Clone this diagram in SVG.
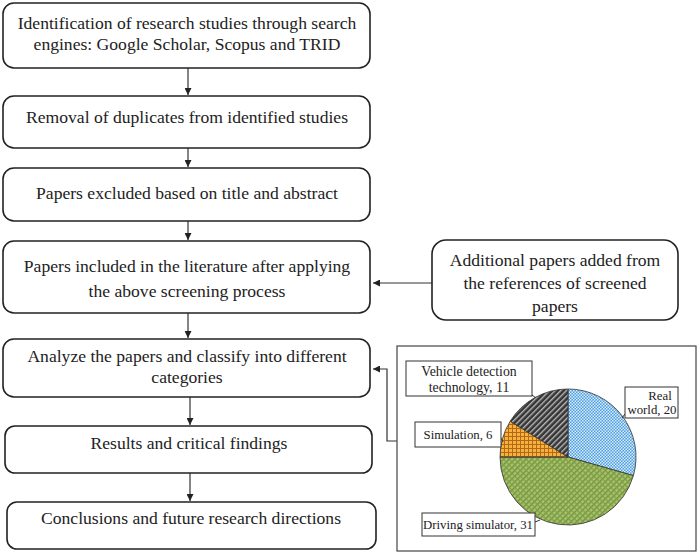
<svg xmlns="http://www.w3.org/2000/svg" width="700" height="556" viewBox="0 0 700 556">
<style>
.box{fill:#fff;stroke:#222;stroke-width:1.6}
.t{font-family:"Liberation Serif","Times New Roman","DejaVu Serif",serif;font-size:17.6px;fill:#222;text-anchor:middle}
.lb{font-family:"Liberation Serif","Times New Roman","DejaVu Serif",serif;font-size:12.8px;fill:#222;text-anchor:middle}
.lbig{font-size:13.8px}
.lbox{fill:#fff;stroke:#333;stroke-width:1}
.con{fill:none;stroke:#333;stroke-width:1.2}
.sl{stroke:#333;stroke-width:0.8}
</style>
<defs>
<marker id="ah" viewBox="0 0 10 10" refX="10" refY="5" markerWidth="7" markerHeight="7" orient="auto" markerUnits="userSpaceOnUse">
<path d="M0,0 L10,5 L0,10 Z" fill="#222"/>
</marker>
<pattern id="pBlue" width="3" height="3" patternUnits="userSpaceOnUse">
<rect width="3" height="3" fill="#4d9ee0"/>
<rect width="1.5" height="1.5" fill="#d8ecfb"/>
<rect x="1.5" y="1.5" width="1.5" height="1.5" fill="#d8ecfb"/>
</pattern>
<pattern id="pGreen" width="4" height="4" patternUnits="userSpaceOnUse" patternTransform="rotate(45)">
<rect width="4" height="4" fill="#a9c46c"/>
<rect width="1.3" height="4" fill="#6f8f3a"/>
<rect width="4" height="1.3" fill="#7f9f48"/>
</pattern>
<pattern id="pOrange" width="4" height="4" patternUnits="userSpaceOnUse">
<rect width="4" height="4" fill="#f8b23c"/>
<path d="M0,0.5 H4 M0.5,0 V4" stroke="#b0681a" stroke-width="1"/>
</pattern>
<pattern id="pGray" width="4" height="4" patternUnits="userSpaceOnUse" patternTransform="rotate(45)">
<rect width="4" height="4" fill="#353535"/>
<rect width="1.4" height="4" fill="#b8b8b8"/>
</pattern>
</defs>

<g id="connectors">
<line class="con" x1="188" y1="68" x2="188" y2="95" marker-end="url(#ah)"/>
<line class="con" x1="188" y1="148" x2="188" y2="167" marker-end="url(#ah)"/>
<line class="con" x1="188" y1="221" x2="188" y2="240" marker-end="url(#ah)"/>
<line class="con" x1="432" y1="283" x2="373" y2="283" marker-end="url(#ah)"/>
<line class="con" x1="188" y1="313" x2="188" y2="338" marker-end="url(#ah)"/>
<line class="con" x1="190" y1="397" x2="190" y2="425" marker-end="url(#ah)"/>
<line class="con" x1="190" y1="473" x2="190" y2="501" marker-end="url(#ah)"/>
<polyline class="con" points="397,441 387,441 387,369 373,369" marker-end="url(#ah)"/>
</g>

<g id="n1">
<rect class="box" x="3" y="3" width="367" height="65" rx="11"/>
<text class="t" x="187" y="29">Identification of research studies through search</text>
<text class="t" x="187" y="50">engines: Google Scholar, Scopus and TRID</text>
</g>
<g id="n2">
<rect class="box" x="3" y="96" width="367" height="52" rx="11"/>
<text class="t" x="187" y="123">Removal of duplicates from identified studies</text>
</g>
<g id="n3">
<rect class="box" x="3" y="168" width="367" height="53" rx="11"/>
<text class="t" x="187" y="199">Papers excluded based on title and abstract</text>
</g>
<g id="n4">
<rect class="box" x="3" y="241" width="367" height="72" rx="11"/>
<text class="t" x="187" y="272">Papers included in the literature after applying</text>
<text class="t" x="187" y="297">the above screening process</text>
</g>
<g id="n5">
<rect class="box" x="432" y="240" width="246" height="80" rx="14"/>
<text class="t" x="555" y="266">Additional papers added from</text>
<text class="t" x="555" y="289">the references of screened</text>
<text class="t" x="555" y="312">papers</text>
</g>
<g id="n6">
<rect class="box" x="3" y="339" width="367" height="58" rx="11"/>
<text class="t" x="187" y="362">Analyze the papers and classify into different</text>
<text class="t" x="187" y="383">categories</text>
</g>
<g id="n7">
<rect class="box" x="5" y="426" width="367" height="47" rx="10"/>
<text class="t" x="189" y="449">Results and critical findings</text>
</g>
<g id="n8">
<rect class="box" x="7" y="502" width="369" height="47" rx="10"/>
<text class="t" x="191" y="524">Conclusions and future research directions</text>
</g>

<g id="chart">
<rect x="397" y="346" width="299" height="205" fill="#fff" stroke="#444" stroke-width="1.2"/>
<path class="sl" fill="url(#pBlue)" d="M568,457 L568,389 A68,68 0 0 1 633.41,475.61 Z"/>
<path class="sl" fill="url(#pGreen)" d="M568,457 L633.41,475.61 A68,68 0 0 1 500,457 Z"/>
<path class="sl" fill="url(#pOrange)" d="M568,457 L500,457 A68,68 0 0 1 510.19,421.2 Z"/>
<path class="sl" fill="url(#pGray)" d="M568,457 L510.19,421.2 A68,68 0 0 1 568,389 Z"/>
<line x1="532" y1="395" x2="536" y2="398" stroke="#333" stroke-width="1"/>
<line x1="625" y1="414" x2="622" y2="418" stroke="#333" stroke-width="1"/>
<line x1="501" y1="438" x2="503" y2="442" stroke="#333" stroke-width="1"/>
<line x1="535" y1="522" x2="540" y2="520" stroke="#333" stroke-width="1"/>
<rect class="lbox" x="406" y="361" width="126" height="35"/>
<text class="lb lbig" x="469" y="375.5">Vehicle detection</text>
<text class="lb lbig" x="469" y="391.5">technology, 11</text>
<rect class="lbox" x="625" y="387" width="53" height="31"/>
<text class="lb" x="660" y="400">Real</text>
<text class="lb" x="652" y="414">world, 20</text>
<rect class="lbox" x="415" y="422" width="86" height="25"/>
<text class="lb" x="458" y="439">Simulation, 6</text>
<rect class="lbox" x="422" y="513" width="113" height="23"/>
<text class="lb" x="478" y="529">Driving simulator, 31</text>
</g>
</svg>
